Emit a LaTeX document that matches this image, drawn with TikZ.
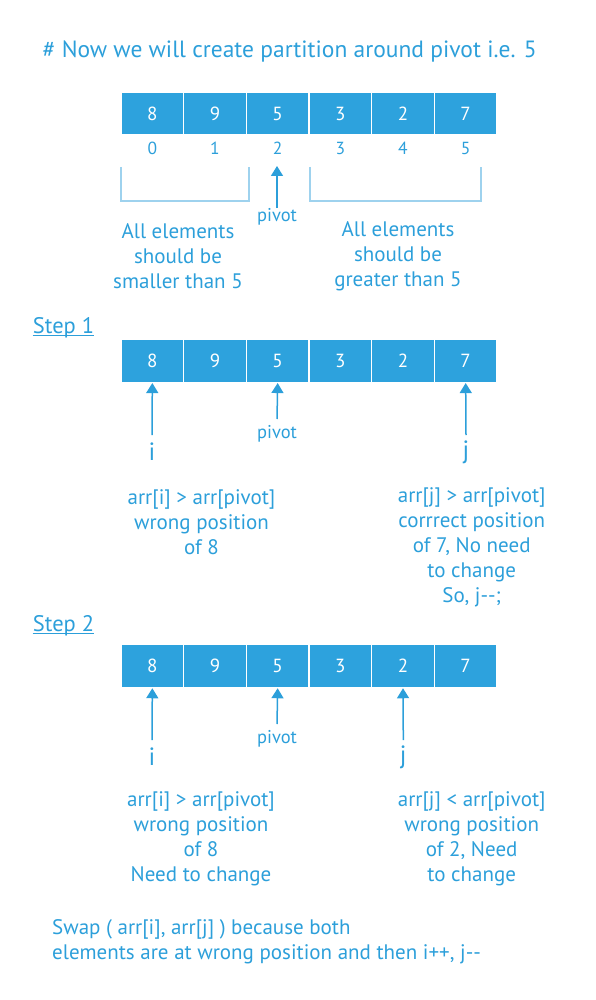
\documentclass[tikz,border=0pt]{standalone}
\usepackage{fontspec}
\setmainfont{PT Sans}
\usetikzlibrary{arrows.meta}
\definecolor{boxblue}{HTML}{2DA2DD}
\definecolor{txtblue}{HTML}{2C9FDA}
\definecolor{brblue}{HTML}{9ED2EE}
\begin{document}
\begin{tikzpicture}[x=1pt,y=-1pt,
  cell/.style={fill=boxblue,draw=white,line width=1.5pt,minimum width=62.67pt,minimum height=43pt,inner sep=0pt,text=white,font=\fontsize{19}{22}\selectfont},
  idx/.style={text=txtblue,font=\fontsize{17.5}{20}\selectfont,inner sep=0pt},
  ptr/.style={draw=txtblue,line width=1.5pt,-{Triangle[width=12pt,length=10pt]}},
  body/.style={text=txtblue,font=\fontsize{21}{25}\selectfont,align=center,inner sep=0pt},
  small/.style={text=txtblue,font=\fontsize{18.5}{20}\selectfont,inner sep=0pt},
  lbl/.style={text=txtblue,font=\fontsize{25}{28}\selectfont,inner sep=0pt},
  steplbl/.style={text=txtblue,font=\fontsize{22.5}{25}\selectfont,inner sep=0pt},
  brk/.style={draw=brblue,line width=1.2pt}
]
\useasboundingbox (0,0) rectangle (595,1000);
% title
\node[text=txtblue,font=\fontsize{23.5}{26}\selectfont,inner sep=0pt,anchor=base west] (title) at (42.5,57.3) {\# Now we will create partition around pivot i.e. 5};
% array 0
\foreach \v [count=\k from 0] in {8,9,5,3,2,7}{
  \node[cell] (a\k) at ({121+62.667*(\k+0.5)},113.5) {\v};
  \node[idx] (n\k) at ({121+62.667*(\k+0.5)},148) {\k};
}
\draw[brk] (121,167) -- (121,201) -- (249,201) -- (249,167);
\draw[brk] (310,167) -- (310,201) -- (481,201) -- (481,167);
\node[small] (pv0) at (277,216.7) {pivot};
\coordinate (pt0) at (277,166);
\draw[ptr] (pv0.north) -- (pt0);
\node[body] (l0) at (178,256.6) {All elements\\should be\\smaller than 5};
\node[body] (r0) at (398,256.6) {All elements\\should be\\greater than 5};
% step 1
\node[steplbl,anchor=base west] (s1) at (32.7,333) {Step 1};
\draw[txtblue,line width=1pt] ([yshift=-2.5pt]s1.base west) -- ([yshift=-2.5pt]s1.base east);
\foreach \v [count=\k from 0] in {8,9,5,3,2,7}{
  \node[cell] (b\k) at ({121+62.667*(\k+0.5)},360.8) {\v};
}
\coordinate (bi) at (152,435);
\coordinate (bp) at (277,419);
\coordinate (bj) at (466,435);
\draw[ptr] (bi) -- (b0.south);
\draw[ptr] (bp) -- (b2.south);
\draw[ptr] (bj) -- (b5.south);
\node[small] (pv1) at (277,434) {pivot};
\node[lbl] (i1) at (152,452) {i};
\node[lbl] (j1) at (466,452) {j};
\node[body] (l1) at (201.5,521.7) {arr[i] > arr[pivot]\\wrong position\\of 8};
\node[body] (r1) at (471.7,547) {arr[j] > arr[pivot]\\corrrect position\\of 7, No need\\to change\\So, j-{}-;};
% step 2
\node[steplbl,anchor=base west] (s2) at (32.7,631) {Step 2};
\draw[txtblue,line width=1pt] ([yshift=-2.5pt]s2.base west) -- ([yshift=-2.5pt]s2.base east);
\foreach \v [count=\k from 0] in {8,9,5,3,2,7}{
  \node[cell] (c\k) at ({121+62.667*(\k+0.5)},666) {\v};
}
\coordinate (ci) at (152,740);
\coordinate (cp) at (277,724);
\coordinate (cj) at (403.3,740);
\draw[ptr] (ci) -- (c0.south);
\draw[ptr] (cp) -- (c2.south);
\draw[ptr] (cj) -- (c4.south);
\node[small] (pv2) at (277,739) {pivot};
\node[lbl] (i2) at (152,757) {i};
\node[lbl] (j2) at (403.3,757) {j};
\node[body] (l2) at (201,839) {arr[i] > arr[pivot]\\wrong position\\of 8\\Need to change};
\node[body] (r2) at (471.7,838.5) {arr[j] < arr[pivot]\\wrong position\\of 2, Need\\to change};
% bottom
\node[body,align=left,anchor=west] (sw) at (52,942) {Swap ( arr[i], arr[j] ) because both\\elements are at wrong position and then i++, j-{}-};
\end{tikzpicture}
\end{document}
